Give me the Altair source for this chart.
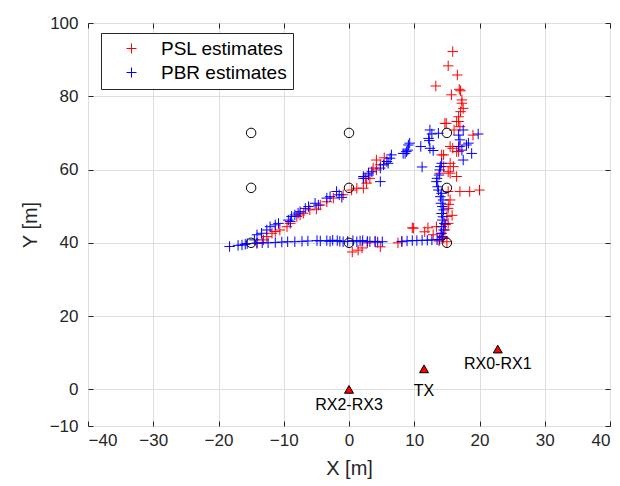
import altair as alt
import pandas as pd

# PSL estimates (red)
psl_x = [-14.1, -13.1, -12.6, -11.8, -11.3, -10.6, -9.5, -9.0, -8.0, -7.5, -7.0, -6.0, -5.0, -4.4, -3.4,
         -2.4, -0.9, 0.4, 1.2, 2.2, 2.7, 3.2, 3.7, 4.2, 4.8, 5.4, 4.2, 2.5,
         0.5, 1.4, 2.0, 2.8, 4.0, 4.8, 7.5, 8.1, 9.7, 9.9, 12.1, 11.6, 12.9, 13.4, 14.2, 14.5, 15.0,
         14.7, 15.2, 15.0, 15.2, 15.5, 15.2, 15.8, 15.3, 14.8, 14.3, 13.8,
         15.5, 16.0, 15.5, 14.5, 15.2, 16.5, 13.9, 17.0, 18.5, 20.0,
         14.2, 15.5, 16.5, 17.0, 15.9, 16.8, 14.5,
         14.7, 16.8, 17.0, 19.0, 15.9, 15.2, 16.6, 13.3, 16.9, 17.1, 15.7, 17.3, 17.3, 17.5, 17.1,
         16.8, 16.5, 14.9, 16.1]
psl_y = [39.9, 40.8, 41.7, 42.6, 43.1, 43.5, 44.4, 45.3, 47.2, 47.6, 48.1, 49.0, 49.2, 50.3, 51.2,
         52.2, 53.1, 54.4, 54.9, 54.9, 56.3, 57.6, 60.4, 59.9, 61.3, 63.2, 62.6, 57.6,
         37.5, 38.0, 38.6, 40.0, 40.3, 38.9, 40.0, 40.3, 44.1, 44.0, 44.1, 43.0, 42.2, 44.4, 42.6, 41.3, 40.3,
         43.5, 45.3, 47.2, 49.4, 51.7, 54.0, 47.5, 50.5, 45.0, 41.5, 40.5,
         59.0, 60.8, 61.7, 60.8, 59.4, 58.1, 59.0, 54.0, 54.0, 54.4,
         64.0, 66.3, 64.9, 66.3, 65.8, 64.9, 64.0,
         72.6, 73.1, 71.7, 69.4, 92.2, 88.3, 85.8, 82.8, 81.9, 81.5, 80.4, 79.0, 78.1, 76.7, 75.8,
         74.4, 73.1, 72.6, 70.8]

# PBR estimates (blue)
pbr_x = [-18.3, -17.0, -16.4, -15.9, -15.6, -14.1, -13.3, -12.4, -11.3, -10.3, -9.4, -8.3, -7.2, -6.3,
         -4.9, -4.4, -3.4, -2.9, -2.5, -1.8, -1.4, -0.9, -0.2, 0.6, 1.2, 1.7, 2.1, 2.8, 3.2, 4.0, 4.4,
         5.1, 8.1, 8.9, 9.7, 10.4, 11.2, 12.0, 12.7, 13.5, 13.9,
         14.3, 14.1, 14.5, 14.2, 14.6, 14.3, 14.4, 14.2, 14.5, 14.3, 14.1, 14.4, 14.0, 14.2, 13.7, 13.6,
         13.4, 13.5, 13.8, 13.9, 14.0, 14.2,
         -14.5, -14.1, -13.4, -12.6, -12.1, -11.3, -10.8, -9.3, -9.0, -8.8, -8.3, -7.8, -7.5, -6.7,
         -6.2, -5.2, -4.7, -3.4, -2.9, -1.9, -1.5, -1.1, 2.2, 3.0, 3.5, 4.8, 4.8, 5.8, 6.3, 6.5, 5.3,
         6.0, 3.0, 2.2,
         8.3, 8.8, 9.3, 9.0, 8.6, 11.0, 12.2, 12.3, 12.4, 12.7, 12.9, 13.7, 11.2, 12.4, 16.8, 17.0,
         16.8, 18.3, 17.3, 18.8, 17.5, 19.8, 17.5, 18.0, 9.1]
pbr_y = [39.0, 39.3, 39.4, 39.6, 39.8, 39.9, 40.0, 40.0, 40.1, 40.2, 40.3, 40.3, 40.4, 40.5,
         40.6, 40.5, 40.6, 40.4, 40.7, 40.6, 40.4, 40.3, 40.4, 40.6, 40.3, 40.5, 40.6, 40.4, 40.3, 40.4, 40.2,
         40.3, 40.4, 40.5, 40.6, 40.6, 40.7, 40.7, 40.8, 40.8, 40.9,
         41.7, 42.6, 43.5, 44.4, 45.3, 46.2, 47.1, 48.0, 49.0, 49.9, 50.8, 51.7, 52.6, 53.5, 54.4, 55.3,
         56.7, 57.6, 58.5, 59.9, 60.8, 61.7,
         40.8, 42.2, 42.6, 43.5, 44.4, 44.9, 45.3, 46.2, 45.8, 47.2, 47.6, 48.1, 48.5, 49.4,
         49.9, 50.8, 50.3, 52.2, 52.6, 54.0, 53.1, 52.4, 57.6, 59.0, 59.4, 60.4, 56.7, 62.2, 63.1, 64.0, 61.3,
         61.7, 58.5, 58.1,
         64.4, 64.9, 67.2, 65.3, 64.4, 66.3, 68.5, 67.9, 70.8, 69.7, 65.2, 69.9, 60.7, 65.8, 69.4, 68.1,
         66.3, 67.2, 65.3, 64.4, 62.6, 69.7, 70.8, 66.7, 66.7]

# Reference grid positions (black circles)
ref_x = [-15, 0, 15, -15, 0, 15, -15, 0, 15]
ref_y = [70, 70, 70, 55, 55, 55, 40, 40, 40]

# Anchor nodes (red triangles)
node_x = [0.0, 11.5, 22.8]
node_y = [0.0, 5.6, 11.0]
node_label = ["RX2-RX3", "TX", "RX0-RX1"]

x_ticks = [-40, -30, -20, -10, 0, 10, 20, 30, 40]
y_ticks = [-10, 0, 20, 40, 60, 80, 100]

series_names = ["PSL estimates", "PBR estimates"]
series_colors = ["#FF0000", "#0000FF"]

FONT = "Liberation Sans"
CROSS = "M-1,0L1,0M0,-1L0,1"
AX = "#262626"
TICK = 5

est = pd.DataFrame({
    "x": psl_x + pbr_x,
    "y": psl_y + pbr_y,
    "series": [series_names[0]] * len(psl_x) + [series_names[1]] * len(pbr_x),
})
refs = pd.DataFrame({"x": ref_x, "y": ref_y})
nodes = pd.DataFrame({"x": node_x, "y": node_y, "label": node_label})

xs = alt.Scale(domain=[-40, 40], nice=False, zero=False)
ys = alt.Scale(domain=[-10, 100], nice=False, zero=False)

common = dict(labelFont=FONT, labelFontSize=17, labelColor=AX, labelFontWeight="normal",
              titleFont=FONT, titleFontSize=20, titleColor=AX, titleFontWeight="normal",
              domain=False, ticks=True, tickSize=TICK, tickColor=AX, tickWidth=1,
              offset=-TICK)

# main (labelled) axes, ticks pointing inward via negative offset
xenc = alt.X("x:Q", scale=xs, title="X [m]",
             axis=alt.Axis(values=x_ticks, format="d", orient="bottom",
                           grid=True, gridColor="#dedede", gridWidth=1,
                           labelPadding=6, titlePadding=10, **common))
yenc = alt.Y("y:Q", scale=ys, title="Y [m]",
             axis=alt.Axis(values=y_ticks, format="d", orient="left",
                           grid=True, gridColor="#dedede", gridWidth=1,
                           labelPadding=10, titlePadding=9, **common))

# mirror axes (top/right): ticks only
xenc2 = alt.X("x:Q", scale=xs, title=None,
              axis=alt.Axis(values=x_ticks, orient="top", labels=False, grid=False, **common))
yenc2 = alt.Y("y:Q", scale=ys, title=None,
              axis=alt.Axis(values=y_ticks, orient="right", labels=False, grid=False, **common))

# no axis (for remaining layers)
xenc0 = alt.X("x:Q", scale=xs, axis=None)
yenc0 = alt.Y("y:Q", scale=ys, axis=None)

points = alt.Chart(est).mark_point(
    shape=CROSS, size=110, filled=False, strokeWidth=1, opacity=1
).encode(
    x=xenc, y=yenc,
    stroke=alt.Stroke("series:N", scale=alt.Scale(domain=series_names, range=series_colors),
                      sort=series_names,
                      legend=alt.Legend(title=None, orient="none", legendX=13, legendY=10,
                                        symbolType=CROSS, symbolSize=100, symbolStrokeWidth=1,
                                        labelFontSize=19, labelFont=FONT, labelColor="#000000",
                                        labelFontWeight="normal",
                                        strokeColor=AX, fillColor="#FFFFFF",
                                        padding=6, symbolOffset=15, labelOffset=20,
                                        rowPadding=4, cornerRadius=0)),
)

circles = alt.Chart(refs).mark_point(
    shape="circle", size=90, filled=False, color="#000000", strokeWidth=1, opacity=1
).encode(x=xenc2, y=yenc2)

tri = alt.Chart(nodes).mark_point(
    shape="triangle-up", size=80, filled=True, fill="#FF0000", stroke="#000000",
    strokeWidth=1, opacity=1
).encode(x=xenc0, y=yenc0)

def node_text(name, dy):
    return alt.Chart(nodes).transform_filter(alt.datum.label == name).mark_text(
        baseline="top", align="center", dy=dy, fontSize=16, font=FONT, color="#000000"
    ).encode(x=xenc0, y=yenc0, text="label:N")

chart = alt.layer(
    points, circles, tri,
    node_text("RX2-RX3", 8), node_text("TX", 14), node_text("RX0-RX1", 7),
).resolve_axis(
    x="independent", y="independent"
).properties(
    width=522, height=403,
    background="#FFFFFF",
    autosize=alt.AutoSizeParams(type="none"),
    padding={"left": 80, "top": 15, "right": 2, "bottom": 60},
).configure_view(
    stroke=AX, strokeWidth=1
)

chart.save("out.html", embed_options={"renderer": "svg", "actions": False})
